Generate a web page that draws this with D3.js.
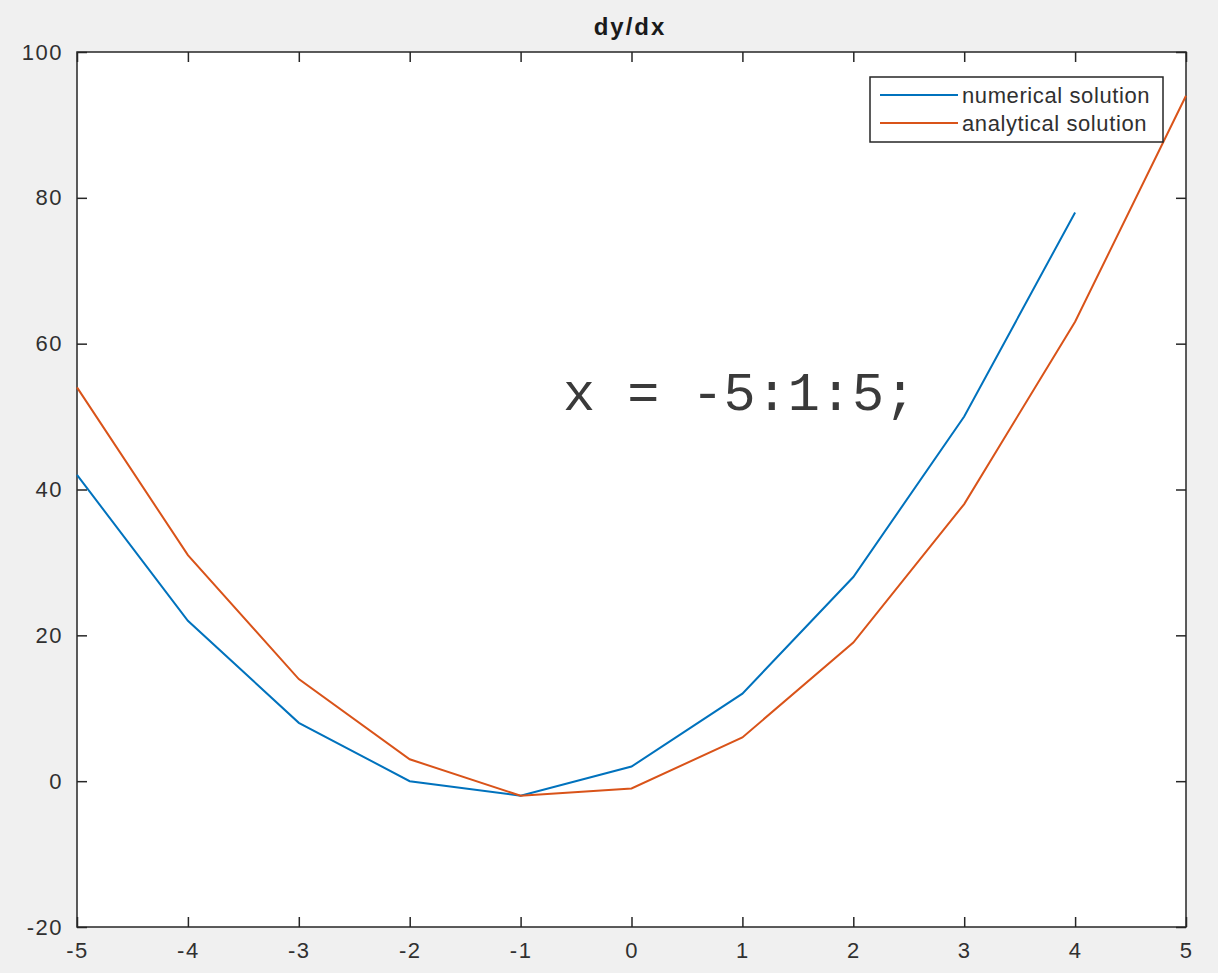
<!DOCTYPE html>
<html>
<head>
<meta charset="utf-8">
<script src="https://cdn.jsdelivr.net/npm/d3@7"></script>
<style>
  body { margin: 0; background: #f0f0f0; }
  svg { display: block; }
  text { font-family: "Liberation Sans", Arial, sans-serif; }
</style>
</head>
<body>
<div id="chart-container"></div>
<script>
// values
var xNumerical = [-5, -4, -3, -2, -1, 0, 1, 2, 3, 4];
var yNumerical = [42, 22, 8, 0, -2, 2, 12, 28, 50, 78];
var xAnalytical = [-5, -4, -3, -2, -1, 0, 1, 2, 3, 4, 5];
var yAnalytical = [54, 31, 14, 3, -2, -1, 6, 19, 38, 63, 94];
var xTicks = [-5, -4, -3, -2, -1, 0, 1, 2, 3, 4, 5];
var yTicks = [-20, 0, 20, 40, 60, 80, 100];
var seriesNames = ["numerical solution", "analytical solution"];

var W = 1218, H = 973;
var margin = { top: 52, right: 32, bottom: 46, left: 77 };
var width = W - margin.left - margin.right;
var height = H - margin.top - margin.bottom;
var tickLen = 10;

var svg = d3.select("#chart-container")
  .append("svg")
  .attr("width", W)
  .attr("height", H);

var g = svg.append("g")
  .attr("transform", "translate(" + margin.left + "," + margin.top + ")");

var xScale = d3.scaleLinear().domain([-5, 5]).range([0, width]);
var yScale = d3.scaleLinear().domain([-20, 100]).range([height, 0]);

g.append("rect")
  .attr("width", width)
  .attr("height", height)
  .attr("fill", "white");

// plain hyphen for negatives, like matlab
var fmt = function (d) { return String(d); };

// axes, ticks pointing inward like matlab
function styleAxis(sel) {
  sel.select(".domain").remove();
  sel.selectAll("line").attr("stroke", "#262626").attr("stroke-width", 1.5);
  sel.selectAll("text")
    .attr("fill", "#303030")
    .style("font-size", "22px")
    .style("letter-spacing", "1.5px");
}

g.append("g")
  .attr("transform", "translate(0," + height + ")")
  .call(d3.axisBottom(xScale).tickValues(xTicks).tickFormat(fmt).tickSizeInner(-tickLen).tickSizeOuter(0).tickPadding(15))
  .call(styleAxis);

g.append("g")
  .call(d3.axisTop(xScale).tickValues(xTicks).tickSizeInner(-tickLen).tickSizeOuter(0).tickFormat(""))
  .call(styleAxis);

g.append("g")
  .call(d3.axisLeft(yScale).tickValues(yTicks).tickFormat(fmt).tickSizeInner(-tickLen).tickSizeOuter(0).tickPadding(14))
  .call(styleAxis);

g.append("g")
  .attr("transform", "translate(" + width + ",0)")
  .call(d3.axisRight(yScale).tickValues(yTicks).tickSizeInner(-tickLen).tickSizeOuter(0).tickFormat(""))
  .call(styleAxis);

g.append("rect")
  .attr("width", width)
  .attr("height", height)
  .attr("fill", "none")
  .attr("stroke", "#262626")
  .attr("stroke-width", 1.5);

var line = d3.line()
  .x(function (d) { return xScale(d[0]); })
  .y(function (d) { return yScale(d[1]); });

var colors = ["#0072BD", "#D95319"];

g.append("path")
  .datum(d3.zip(xNumerical, yNumerical))
  .attr("d", line)
  .attr("fill", "none")
  .attr("stroke", colors[0])
  .attr("stroke-width", 2);

g.append("path")
  .datum(d3.zip(xAnalytical, yAnalytical))
  .attr("d", line)
  .attr("fill", "none")
  .attr("stroke", colors[1])
  .attr("stroke-width", 2);

// title
svg.append("text")
  .attr("x", 630)
  .attr("y", 35)
  .attr("text-anchor", "middle")
  .style("font-size", "24px")
  .style("font-weight", "bold")
  .style("letter-spacing", "2px")
  .attr("fill", "#1a1a1a")
  .text("dy/dx");

// annotation
svg.append("text")
  .attr("x", 563)
  .attr("y", 410)
  .style("font-family", "'Liberation Mono', 'Courier New', monospace")
  .style("font-size", "53.5px")
  .attr("fill", "#3a3a3a")
  .text("x = -5:1:5;");

// legend
var legend = svg.append("g").attr("transform", "translate(870,77)");
legend.append("rect")
  .attr("width", 293)
  .attr("height", 65)
  .attr("fill", "white")
  .attr("stroke", "#262626")
  .attr("stroke-width", 1.5);

seriesNames.forEach(function (name, i) {
  var yy = 18 + i * 28;
  legend.append("line")
    .attr("x1", 10).attr("x2", 88)
    .attr("y1", yy).attr("y2", yy)
    .attr("stroke", colors[i])
    .attr("stroke-width", 2);
  legend.append("text")
    .attr("x", 92)
    .attr("y", yy + 8)
    .style("font-size", "22px")
    .style("letter-spacing", "0.6px")
    .attr("fill", "#303030")
    .text(name);
});
</script>
</body>
</html>
